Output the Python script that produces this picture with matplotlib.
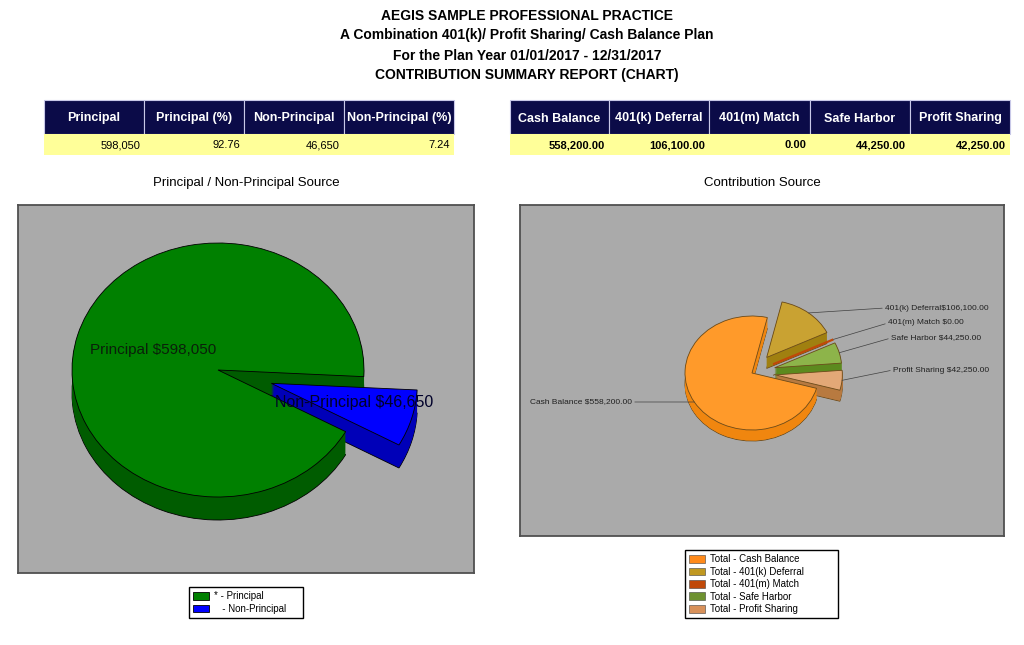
import matplotlib.pyplot as plt
from matplotlib.patches import Rectangle, Patch
import numpy as np

plt.rcParams['font.family'] = ['Liberation Sans', 'DejaVu Sans']

title_lines = ["AEGIS SAMPLE PROFESSIONAL PRACTICE",
               "A Combination 401(k)/ Profit Sharing/ Cash Balance Plan",
               "For the Plan Year 01/01/2017 - 12/31/2017",
               "CONTRIBUTION SUMMARY REPORT (CHART)"]

# principal / non-principal split
source_names = ["Principal", "Non-Principal"]
source_amounts = [598050, 46650]
left_headers = ["Principal", "Principal (%)", "Non-Principal", "Non-Principal (%)"]

# contribution sources
contrib_names = ["Cash Balance", "401(k) Deferral", "401(m) Match", "Safe Harbor", "Profit Sharing"]
contrib_amounts = [558200.00, 106100.00, 0.00, 44250.00, 42250.00]
pie_labels = ["Cash Balance $558,200.00", "401(k) Deferral$106,100.00", "401(m) Match $0.00",
              "Safe Harbor $44,250.00", "Profit Sharing $42,250.00"]
legend_right = ["Total - " + n for n in contrib_names]
legend_left = ["* - Principal", "   - Non-Principal"]

W, H = 1024, 645
fig = plt.figure(figsize=(W / 100, H / 100), dpi=100)
fig.patch.set_facecolor('white')

# overlay in pixel coordinates for titles and tables
bg = fig.add_axes([0, 0, 1, 1])
bg.set_xlim(0, W)
bg.set_ylim(H, 0)
bg.axis('off')

for i, line in enumerate(title_lines):
    bg.text(527, 19.5 + 20 * i, line, ha='center', va='baseline', fontsize=10, fontweight='bold')

head_col = '#0B0B48'
yellow = '#FFFF99'


def draw_table(x_edges, headers, values, bold_vals):
    for j, (h, v) in enumerate(zip(headers, values)):
        x0, x1 = x_edges[j], x_edges[j + 1]
        bg.add_patch(Rectangle((x0, 100), x1 - x0, 34, facecolor=head_col,
                               edgecolor='#C8C8E8', lw=0.8))
        bg.add_patch(Rectangle((x0, 134), x1 - x0, 21, facecolor=yellow, edgecolor='none'))
        bg.text((x0 + x1) / 2, 121.5, h, color='white', fontsize=9, fontweight='bold',
                ha='center', va='baseline')
        bg.text(x1 - 4, 148.5, v, fontsize=8, fontweight='bold' if bold_vals else 'normal',
                ha='right', va='baseline')


total_src = sum(source_amounts)
left_vals = [f"{source_amounts[0]:,.0f}", f"{source_amounts[0] / total_src * 100:.2f}",
             f"{source_amounts[1]:,.0f}", f"{source_amounts[1] / total_src * 100:.2f}"]
draw_table([44, 144, 244, 344, 454], left_headers, left_vals, False)
draw_table([510, 609, 709, 810, 910, 1010], contrib_names,
           [f"{v:,.2f}" for v in contrib_amounts], True)

bg.text(246, 186, "Principal / Non-Principal Source", ha='center', va='baseline', fontsize=9.5)
bg.text(762, 186, "Contribution Source", ha='center', va='baseline', fontsize=9.5)


def pie3d(ax, values, tops, sides, edge, explode, start, ccw, depth, layers=22):
    for k in range(layers, 0, -1):
        ax.pie(values, colors=sides, explode=explode, startangle=start, counterclock=ccw,
               center=(0, -depth * k / layers), frame=True,
               wedgeprops=dict(edgecolor=edge if k == layers else 'none', linewidth=0.6))
    wedges, _ = ax.pie(values, colors=tops, explode=explode, startangle=start,
                       counterclock=ccw, center=(0, 0), frame=True,
                       wedgeprops=dict(edgecolor=edge, linewidth=0.6))
    return wedges


def make_box(x0, y0, x1, y1, cx, cy, rx, ry):
    ax = fig.add_axes([x0 / W, 1 - y1 / H, (x1 - x0) / W, (y1 - y0) / H])
    ax.set_facecolor('#AAAAAA')
    pie_lim = ((x0 - cx) / rx, (x1 - cx) / rx, (cy - y1) / ry, (cy - y0) / ry)
    return ax, pie_lim


def finish(ax, lim):
    ax.set_aspect('auto')
    ax.set_xlim(lim[0], lim[1])
    ax.set_ylim(lim[2], lim[3])
    ax.set_xticks([])
    ax.set_yticks([])
    for s in ax.spines.values():
        s.set_color('#505050')
        s.set_linewidth(1.3)


def box_legend(ax, handles, labels, x0, y0, x1, y1):
    ax.legend(handles=handles, labels=labels, loc='upper left', mode='expand',
              bbox_to_anchor=(x0 / W, 1 - y1 / H, (x1 - x0) / W, (y1 - y0) / H),
              bbox_transform=fig.transFigure, fontsize=7, fancybox=False, edgecolor='black',
              framealpha=1, borderaxespad=0, handlelength=1.6, handleheight=0.85,
              handletextpad=0.5, labelspacing=0.25, borderpad=0.45)


# left pie
axl, liml = make_box(18, 205, 474, 573, 218, 370, 146, 127)
pie3d(axl, source_amounts, ['#008000', '#0000FF'], ['#005C00', '#0000B8'], 'black',
      [0, 0.38], -3, True, 23 / 127)
finish(axl, liml)
axl.text(90, 354, f"{source_names[0]} ${source_amounts[0]:,}", transform=bg.transData,
         fontsize=11, color='#0A200A', va='baseline', ha='left')
axl.text(275, 407, f"{source_names[1]} ${source_amounts[1]:,}", transform=bg.transData,
         fontsize=11.5, color='#00002A', va='baseline', ha='left')
box_legend(axl, [Patch(facecolor='#008000', edgecolor='black', lw=0.6),
                 Patch(facecolor='#0000FF', edgecolor='black', lw=0.6)],
           legend_left, 189, 587, 303, 618)

# right pie
axr, limr = make_box(520, 205, 1004, 536, 752, 373, 67, 57)
expl = [0, 0.35, 0.35, 0.35, 0.35]
tops = ['#FF9A2A', '#C9A232', '#C84A10', '#8DB44A', '#E3A877']
sides = ['#F0860F', '#A08010', '#A03000', '#5C8A1E', '#B87A40']
wedges = pie3d(axr, contrib_amounts, tops, sides, '#6A4A1A', expl, -15.6, False, 11 / 57)
wedges[2].set_edgecolor('#C04808')
wedges[2].set_linewidth(1.6)
finish(axr, limr)

text_pos = [(632, 402), (885, 308), (888, 323), (891, 338), (893, 370)]
for w, lab, (tx, ty), ex in zip(wedges, pie_labels, text_pos, expl):
    mid = np.deg2rad((w.theta1 + w.theta2) / 2)
    r = 1 + ex
    right = tx > 752
    axr.annotate(lab, xy=(r * np.cos(mid), r * np.sin(mid)), xycoords='data',
                 xytext=(tx, ty), textcoords=bg.transData, fontsize=6,
                 ha='left' if right else 'right', va='center', color='#202020',
                 arrowprops=dict(arrowstyle='-', color='#404040', lw=0.5,
                                 shrinkA=0, shrinkB=0,
                                 relpos=(0, 0.5) if right else (1, 0.5)))

leg_cols = ['#FF8A1A', '#C09820', '#C04808', '#6E9230', '#D8915A']
box_legend(axr, [Patch(facecolor=c, edgecolor='#404040', lw=0.4) for c in leg_cols],
           legend_right, 685, 550, 838, 619)

fig.savefig('out.png', dpi=100)
